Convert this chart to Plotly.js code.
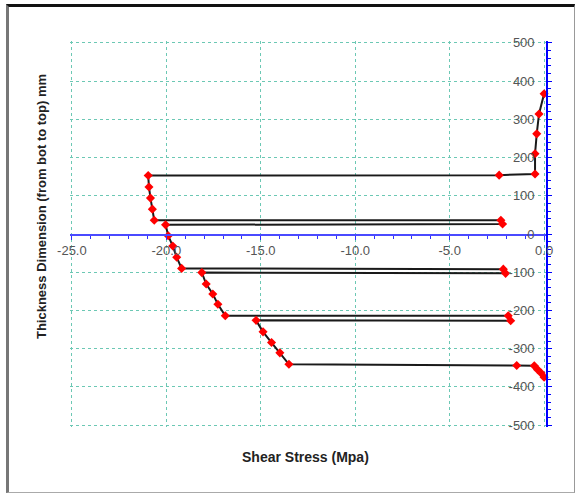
<!DOCTYPE html>
<html>
<head>
<meta charset="utf-8">
<script src="https://cdn.plot.ly/plotly-3.0.1.min.js"></script>
<style>
html,body{margin:0;padding:0;background:#fff;}
#chart{position:absolute;left:0;top:0;width:578px;height:494px;}
#frame{position:absolute;left:6px;top:4px;width:569px;height:489px;box-sizing:border-box;
  border-top:3px solid #111;border-left:3px solid #777;border-right:1px solid #999;border-bottom:1px solid #aaa;pointer-events:none;}
</style>
</head>
<body>
<div id="chart"></div>
<div id="frame"></div>
<script>
// Shear stress (MPa) through the thickness (mm, from bottom to top)
const stress = [0, -0.27, -0.39, -0.48, -0.48, -2.38,
  -20.96, -20.92, -20.84, -20.74, -20.64, -2.29,
  -2.2, -20.04, -19.9, -19.66, -19.45, -19.19, -2.16,
  -2.04, -18.12, -17.89, -17.54, -17.27, -16.88, -1.9,
  -1.77, -15.25, -14.88, -14.43, -13.99, -13.51, -1.45,
  -0.52, -0.34, -0.16, 0];
const thickness = [367, 314, 262, 210, 157, 154,
  153, 123, 94, 65, 36, 36,
  26, 24, -4.5, -31.5, -61, -90, -92,
  -103, -101, -131, -157, -184, -214, -214,
  -227, -226, -256, -284, -311, -341, -344,
  -345, -355, -364, -375];

const xTickVals = [-25, -20, -15, -10, -5, 0];
const xTickText = ['-25.0', '-20.0', '-15.0', '-10.0', '-5.0', '0.0'];
const yTickVals = [500, 400, 300, 200, 100, 0, -100, -200, -300, -400, -500];
const yTickText = ['500', '400', '300', '200', '100', '0', '-100', '-200', '-300', '-400', '-500'];

const xTitle = 'Shear Stress (Mpa)';
const yTitle = 'Thickness Dimension (from bot to top) mm';

const tickFont = {family: 'Liberation Sans, Arial, sans-serif', size: 13, color: '#555'};
const gridColor = '#6cc8b4';

const trace = {
  x: stress, y: thickness, type: 'scatter', mode: 'lines+markers',
  line: {color: '#1a1a1a', width: 2},
  marker: {symbol: 'diamond', size: 7, color: '#ff0000'},
  hoverinfo: 'skip', cliponaxis: false
};

const layout = {
  width: 578, height: 494,
  margin: {l: 70, r: 32, t: 41, b: 67},
  paper_bgcolor: '#fff', plot_bgcolor: '#fff',
  showlegend: false,
  xaxis: {
    range: [-25.1, 0.1], anchor: 'free', position: 0.5,
    tickmode: 'array', tickvals: xTickVals, ticktext: xTickText,
    ticks: 'outside', ticklen: 4, tickcolor: '#3030ff', tickwidth: 1,
    ticklabeloverflow: 'allow',
    minor: {dtick: 1, tick0: 0, ticks: 'outside', ticklen: 3, tickcolor: '#3030ff', showgrid: false},
    showline: true, linecolor: '#4a4aff', linewidth: 1.5,
    showgrid: true, gridcolor: gridColor, griddash: 'dot', gridwidth: 1,
    zeroline: false, tickfont: tickFont
  },
  yaxis: {
    range: [-505, 505], side: 'right', anchor: 'x',
    tickmode: 'array', tickvals: yTickVals, ticktext: yTickText,
    ticks: 'outside', ticklen: 4, tickcolor: '#0000ff', tickwidth: 1,
    ticklabelposition: 'inside', ticklabelstandoff: 11, ticklabeloverflow: 'allow',
    minor: {dtick: 20, tick0: 0, ticks: 'outside', ticklen: 3, tickcolor: '#0000ff', showgrid: false},
    showline: true, linecolor: '#0000ff', linewidth: 2,
    showgrid: true, gridcolor: gridColor, griddash: 'dot', gridwidth: 1,
    zeroline: false, tickfont: tickFont
  },
  annotations: [
    {text: '<b>' + xTitle + '</b>', xref: 'paper', yref: 'paper', x: 0.494, y: -0.079,
     xanchor: 'center', yanchor: 'middle', showarrow: false,
     font: {family: 'Liberation Sans, Arial, sans-serif', size: 14, color: '#222'}},
    {text: '<b>' + yTitle + '</b>', xref: 'paper', yref: 'paper', x: -0.06, y: 0.571,
     xanchor: 'center', yanchor: 'middle', showarrow: false, textangle: -90,
     font: {family: 'Liberation Sans, Arial, sans-serif', size: 13, color: '#222'}}
  ]
};

Plotly.newPlot('chart', [trace], layout, {staticPlot: true, displayModeBar: false});
</script>
</body>
</html>
